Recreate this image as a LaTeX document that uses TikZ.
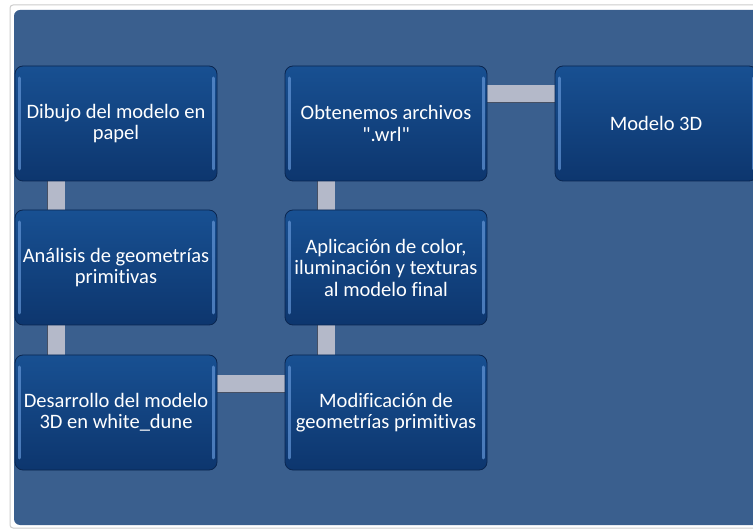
\documentclass[tikz,border=0pt]{standalone}
\usepackage{fontspec}
\setmainfont{Carlito}[Ligatures={TeXOff,NoCommon}]
\usetikzlibrary{backgrounds}
\definecolor{panel}{RGB}{58,95,142}
\definecolor{boxtop}{RGB}{24,80,146}
\definecolor{boxbot}{RGB}{13,54,110}
\definecolor{boxrim}{RGB}{10,38,80}
\definecolor{hilite}{RGB}{100,150,215}
\definecolor{barfill}{RGB}{180,185,201}
\definecolor{barrim}{RGB}{70,80,100}
\tikzset{
	stage/.style={rectangle, rounded corners=8pt, minimum width=202pt, minimum height=115pt,
		top color=boxtop, bottom color=boxbot, draw=boxrim, line width=0.8pt,
		text=white, align=center, font=\fontsize{20.5}{21.5}\selectfont,
		path picture={
			\draw[hilite, opacity=0.7, line width=3pt, line cap=round]
				([xshift=4pt,yshift=-12pt]path picture bounding box.north west) -- ([xshift=4pt,yshift=12pt]path picture bounding box.south west);
			\draw[hilite, opacity=0.7, line width=3pt, line cap=round]
				([xshift=-4pt,yshift=-12pt]path picture bounding box.north east) -- ([xshift=-4pt,yshift=12pt]path picture bounding box.south east);
		}},
	link/.style={draw=barrim, line width=0.6pt, double=barfill, double distance=17pt}
}
\begin{document}
\begin{tikzpicture}[x=1pt,y=-1pt]

	\useasboundingbox (0,0) rectangle (753,529);
	\begin{scope}[on background layer]
		\fill[white] (0,0) rectangle (753,529);
		\draw[gray!40, line width=1pt, rounded corners=3pt] (10,5) rectangle (770,528);
		\fill[panel, rounded corners=6pt] (14,10) rectangle (770,525);
	\end{scope}

	% first column
	\node[stage] (dibujo)     at (116,123.5) {Dibujo del modelo en\\papel};
	\node[stage] (analisis)   at (116,267.5) {Análisis de geometrías\\primitivas};
	\node[stage] (desarrollo) at (116,412.5) {Desarrollo del modelo\\3D en white\_dune};

	% second column
	\node[stage] (modificacion) at (386,412.5) {Modificación de\\geometrías primitivas};
	\node[stage] (aplicacion)   at (386,267.5) {Aplicación de color,\\iluminación y texturas\\al modelo final};
	\node[stage] (obtenemos)    at (386,123.5) {Obtenemos archivos\\".wrl"};

	% third column
	\node[stage] (modelo) at (656,123.5) {Modelo 3D};

	% connectors
	\begin{scope}[on background layer]
		\draw[link] ([xshift=-60pt]dibujo.south) -- ([xshift=-60pt]analisis.north);
		\draw[link] ([xshift=-60pt]analisis.south) -- ([xshift=-60pt]desarrollo.north);
		\draw[link] ([yshift=28.5pt]desarrollo.east) -- ([yshift=28.5pt]modificacion.west);
		\draw[link] ([xshift=-60pt]modificacion.north) -- ([xshift=-60pt]aplicacion.south);
		\draw[link] ([xshift=-60pt]aplicacion.north) -- ([xshift=-60pt]obtenemos.south);
		\draw[link] ([yshift=29.5pt]obtenemos.east) -- ([yshift=29.5pt]modelo.west);
	\end{scope}
\end{tikzpicture}
\end{document}
